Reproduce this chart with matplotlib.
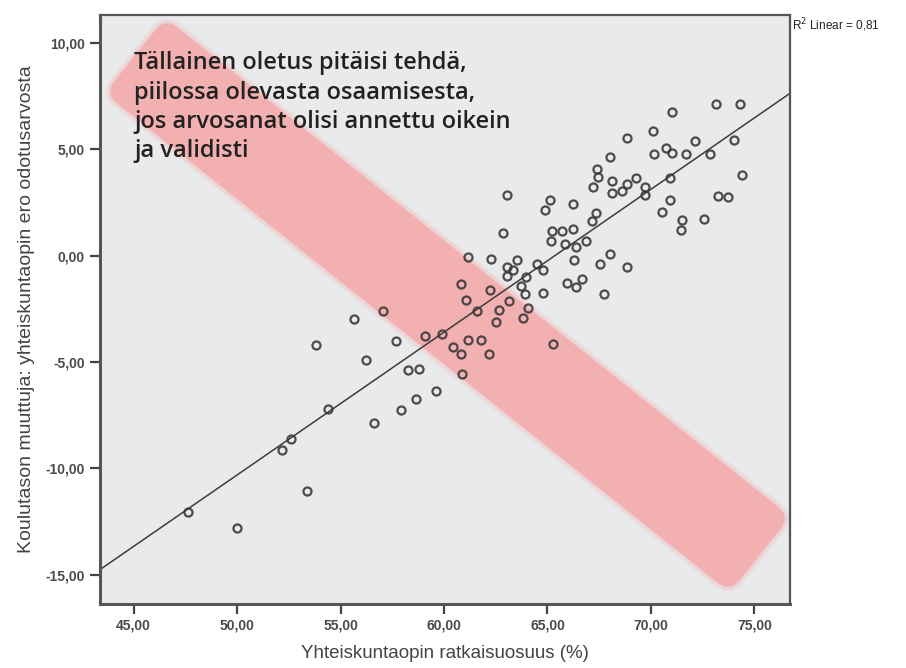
import numpy as np
import matplotlib
matplotlib.use("Agg")
import matplotlib.pyplot as plt
from matplotlib.patches import FancyBboxPatch
from matplotlib.transforms import Affine2D, IdentityTransform
from matplotlib.ticker import FuncFormatter

# ratkaisuosuus (%) ja ero odotusarvosta, luettu kuvasta
ratkaisuosuus = [
    47.61, 49.98, 52.15, 52.63, 53.36, 53.79, 54.37, 55.63, 56.21, 56.64,
    57.03, 57.66, 57.90, 58.24, 58.67, 58.77, 59.06, 59.59, 59.88, 60.41,
    60.80, 60.89, 61.04, 61.14, 61.57, 60.80, 61.14, 62.29, 62.20, 61.81,
    62.15, 62.49, 62.68, 63.12, 63.84, 64.08, 63.02, 62.87, 63.55, 63.02,
    63.31, 63.02, 63.94, 64.47, 63.74, 63.89, 73.12, 74.32, 71.04, 70.12,
    68.86, 72.15, 73.99, 68.04, 70.17, 70.75, 71.04, 71.67, 72.83, 67.37,
    67.42, 67.22, 68.14, 69.30, 68.86, 69.73, 69.69, 68.62, 68.14, 70.94,
    74.42, 73.26, 73.70, 70.94, 70.51, 71.52, 71.47, 72.58, 65.10, 64.90,
    66.21, 67.32, 67.17, 65.24, 65.68, 66.21, 65.19, 65.87, 66.40, 66.88,
    66.30, 68.04, 67.56, 68.82, 64.76, 65.92, 66.40, 66.69, 67.75, 64.76,
    65.29,
]
ero_odotusarvosta = [
    -12.04, -12.79, -9.13, -8.62, -11.05, -4.22, -7.21, -3.00, -4.92, -7.87,
    -2.62, -4.03, -7.26, -5.39, -6.74, -5.34, -3.79, -6.37, -3.70, -4.31,
    -4.64, -5.57, -2.11, -3.98, -2.62, -1.36, -0.09, -0.14, -1.64, -3.98,
    -4.64, -3.14, -2.58, -2.15, -2.95, -2.48, 2.86, 1.08, -0.23, -0.52,
    -0.70, -0.98, -1.03, -0.42, -1.41, -1.83, 7.12, 7.12, 6.74, 5.85,
    5.53, 5.39, 5.43, 4.64, 4.78, 5.06, 4.82, 4.78, 4.78, 4.07,
    3.70, 3.23, 3.51, 3.65, 3.37, 3.23, 2.86, 3.04, 2.95, 3.65,
    3.79, 2.81, 2.76, 2.62, 2.06, 1.69, 1.22, 1.73, 2.62, 2.15,
    2.44, 2.01, 1.64, 1.17, 1.17, 1.26, 0.70, 0.52, 0.42, 0.70,
    -0.19, 0.09, -0.42, -0.56, -0.66, -1.31, -1.50, -1.08, -1.83, -1.78,
    -4.17,
]
x_ticks = [45, 50, 55, 60, 65, 70, 75]
y_ticks = [-15, -10, -5, 0, 5, 10]
huomio = ("Tällainen oletus pitäisi tehdä,\npiilossa olevasta osaamisesta,\n"
          "jos arvosanat olisi annettu oikein\nja validisti")

x = np.array(ratkaisuosuus)
y = np.array(ero_odotusarvosta)

fig = plt.figure(figsize=(9.06, 6.68), dpi=100)
ax = fig.add_axes([0.110, 0.096, 0.762, 0.882])
ax.set_facecolor("#e9eaec")
ax.set_xlim(43.36, 76.72)
ax.set_ylim(-16.36, 11.31)

# vaaleanpunainen nauha (pikselikoordinaatit)
H_PX = 668
cx, cy = 447.5, H_PX - 305
L, B = 800, 97
for grow, alpha in [(5, 0.12), (3, 0.25), (0, 1.0)]:
    band = FancyBboxPatch((-L / 2 - grow, -B / 2 - grow), L + 2 * grow, B + 2 * grow,
                          boxstyle="round,pad=0,rounding_size=%d" % (16 + grow),
                          facecolor="#f3b0b0", edgecolor="none", alpha=alpha,
                          transform=Affine2D().rotate_deg(-38.6).translate(cx, cy) + IdentityTransform(),
                          zorder=1)
    ax.add_artist(band)
    band.set_clip_path(ax.patch)

# regressiosuora
k, b = np.polyfit(x, y, 1)
xl = np.array(ax.get_xlim())
ax.plot(xl, k * xl + b, color="#3c3c3c", lw=1.1, zorder=2)

ax.plot(x, y, linestyle="none", marker="o", markersize=5.8, markerfacecolor="none",
        markeredgecolor="#3a3a3a", markeredgewidth=1.6, alpha=0.9, zorder=3)

ax.text(0.050, 0.938, huomio, transform=ax.transAxes, ha="left", va="top",
        fontsize=17, family="Open Sans", fontweight="semibold", color="#222222",
        linespacing=1.3, zorder=4)

fmt = FuncFormatter(lambda v, p: ("%.2f" % v).replace(".", ","))
ax.set_xticks(x_ticks)
ax.set_yticks(y_ticks)
ax.xaxis.set_major_formatter(fmt)
ax.yaxis.set_major_formatter(fmt)
ax.tick_params(direction="out", length=7, width=1.6, color="#444444",
               labelsize=10, labelcolor="#4a4a4a")
for lab in ax.get_xticklabels() + ax.get_yticklabels():
    lab.set_family("Liberation Sans")
    lab.set_fontweight("bold")
for s in ax.spines.values():
    s.set_color("#555555")
    s.set_linewidth(1.6)
ax.spines["left"].set_linewidth(2.2)
ax.spines["bottom"].set_linewidth(2.2)

ax.set_xlabel("Yhteiskuntaopin ratkaisuosuus (%)", fontsize=13.5, family="Liberation Sans",
              color="#444444", labelpad=9)
ax.set_ylabel("Koulutason muuttuja: yhteiskuntaopin ero odotusarvosta", fontsize=14,
              family="Liberation Sans", color="#444444", labelpad=8)

fig.text(0.874, 0.962, "R$^2$ Linear = 0,81", fontsize=8.5, family="Liberation Sans",
         color="#222222", ha="left", va="center")

fig.savefig("out.png", dpi=100)
